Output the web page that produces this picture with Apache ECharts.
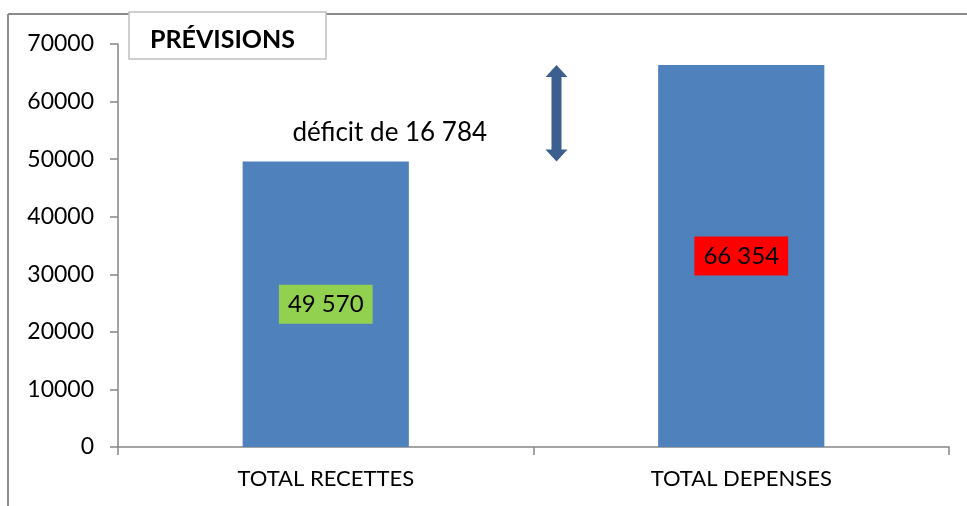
<!DOCTYPE html>
<html>
<head>
<meta charset="utf-8">
<script src="https://cdn.jsdelivr.net/npm/echarts@6/dist/echarts.min.js"></script>
<style>
  html, body { margin: 0; padding: 0; background: #fff; }
  #chart { width: 967px; height: 506px; }
</style>
</head>
<body>
<div id="chart"></div>
<script>
// data
const categories = ["TOTAL RECETTES", "TOTAL DEPENSES"];
const values = [49570, 66354];
const labelColors = ["#92D050", "#FF0000"];
const yMin = 0, yMax = 70000, yStep = 10000;

const FONT = "Lato";
const fmt = (v) => String(v).replace(/\B(?=(\d{3})+(?!\d))/g, " ");

const mychart = echarts.init(document.getElementById("chart"));

mychart.setOption({
  animation: false,
  textStyle: { fontFamily: FONT },
  grid: { left: 118, right: 18, top: 44, bottom: 59 },
  xAxis: {
    type: "category",
    data: categories,
    boundaryGap: true,
    axisLine: { lineStyle: { color: "#868686", width: 1.5 } },
    axisTick: { show: true, length: 8, lineStyle: { color: "#868686", width: 1.5 } },
    axisLabel: { color: "#000", fontSize: 22, margin: 21, fontFamily: FONT }
  },
  yAxis: {
    type: "value",
    min: yMin,
    max: yMax,
    interval: yStep,
    axisLine: { show: true, lineStyle: { color: "#868686", width: 1.5 } },
    axisTick: { show: true, length: 8, lineStyle: { color: "#868686", width: 1.5 } },
    splitLine: { show: false },
    axisLabel: { color: "#000", fontSize: 23, margin: 24, fontFamily: FONT, formatter: (v) => String(v) }
  },
  series: [{
    type: "bar",
    barWidth: "40%",
    itemStyle: { color: "#4F81BD" },
    data: values.map((v, i) => ({
      value: v,
      label: { backgroundColor: labelColors[i] }
    })),
    label: {
      show: true,
      position: "inside",
      color: "#000",
      fontSize: 24,
      fontFamily: FONT,
      padding: [8, 9, 7, 9],
      formatter: (p) => fmt(p.value)
    }
  }]
});

// annotations: frame, title box, deficit arrow and text
function drawExtras() {
  const yTop = mychart.convertToPixel({ yAxisIndex: 0 }, Math.max(...values));
  const yLow = mychart.convertToPixel({ yAxisIndex: 0 }, Math.min(...values));
  const x0 = mychart.convertToPixel({ xAxisIndex: 0 }, categories[0]);
  const x1 = mychart.convertToPixel({ xAxisIndex: 0 }, categories[1]);
  const ax = (x0 + x1) / 2 + 23;
  const hw = 11, sw = 5, hh = 12;
  const deficit = Math.abs(values[1] - values[0]);

  mychart.setOption({
    graphic: [
      { type: "line", shape: { x1: 8, y1: 14, x2: 967, y2: 14 }, style: { stroke: "#8c8c8c", lineWidth: 2 } },
      { type: "line", shape: { x1: 8, y1: 14, x2: 8, y2: 506 }, style: { stroke: "#8c8c8c", lineWidth: 2 } },
      { type: "rect", shape: { x: 129, y: 12, width: 197, height: 47 }, style: { fill: "#fff", stroke: "#c0c0c0", lineWidth: 1.5 } },
      { type: "text", x: 150, y: 40, style: { text: "PRÉVISIONS", font: "bold 25px " + FONT, fill: "#000", textVerticalAlign: "middle" } },
      {
        type: "polygon",
        shape: {
          points: [
            [ax, yTop], [ax + hw, yTop + hh], [ax + sw, yTop + hh],
            [ax + sw, yLow - hh], [ax + hw, yLow - hh], [ax, yLow],
            [ax - hw, yLow - hh], [ax - sw, yLow - hh], [ax - sw, yTop + hh],
            [ax - hw, yTop + hh]
          ]
        },
        style: { fill: "#3B5F8E" }
      },
      { type: "text", x: x0 + 64, y: yLow - 29, style: { text: "déficit de " + fmt(deficit), font: "26px " + FONT, fill: "#000", textAlign: "center", textVerticalAlign: "middle" } }
    ]
  });
}
drawExtras();

window.addEventListener("resize", function () {
  mychart.resize();
  drawExtras();
});
</script>
</body>
</html>
